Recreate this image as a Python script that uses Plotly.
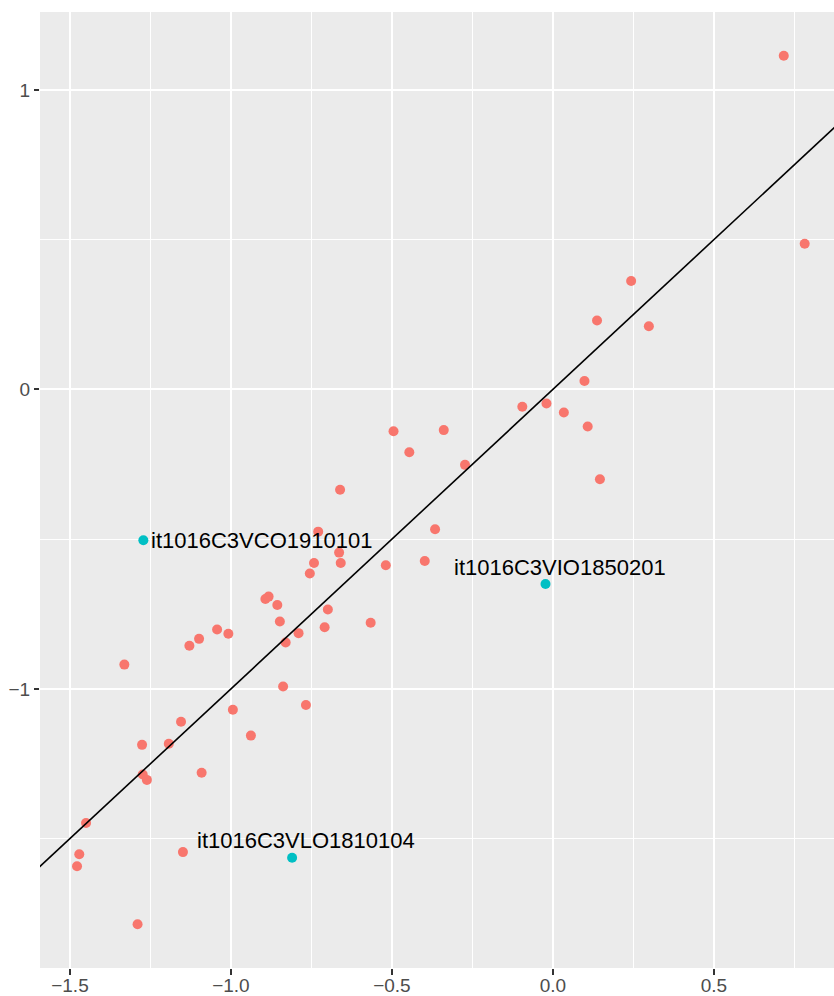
import numpy as np
import plotly.graph_objects as go

# ---- data ----
red_x = [0.717, 0.782, 0.243, 0.137, 0.298, 0.098, -0.095, -0.020, 0.034, 0.108,
         -0.339, -0.273, 0.146, -0.495, -0.446, -0.661, -0.366, -0.398, -0.729, -0.664,
         -0.742, -0.659, -0.519, -0.755, -0.893, -0.883, -0.856, -0.699, -0.848, -0.566,
         -1.043, -1.008, -0.709, -1.099, -1.129, -0.790, -0.830, -1.331, -0.838, -0.767,
         -0.994, -1.155, -1.276, -1.193, -0.938, -1.274, -1.261, -1.091, -1.450, -1.471,
         -1.478, -1.149, -1.290]
red_y = [1.114, 0.486, 0.362, 0.230, 0.211, 0.028, -0.058, -0.047, -0.077, -0.124,
         -0.136, -0.252, -0.300, -0.140, -0.210, -0.335, -0.467, -0.573, -0.475, -0.545,
         -0.580, -0.580, -0.587, -0.615, -0.700, -0.692, -0.720, -0.735, -0.775, -0.779,
         -0.802, -0.816, -0.794, -0.833, -0.856, -0.814, -0.845, -0.919, -0.992, -1.054,
         -1.070, -1.110, -1.187, -1.183, -1.156, -1.286, -1.304, -1.280, -1.448, -1.552,
         -1.592, -1.545, -1.786]

cyan_names = ["it1016C3VCO1910101", "it1016C3VLO1810104", "it1016C3VIO1850201"]
cyan_x = [-1.272, -0.810, -0.023]
cyan_y = [-0.504, -1.564, -0.650]
label_x = [-1.252, -1.107, -0.310]
label_y = [-0.504, -1.507, -0.596]

line_slope = 1.0
line_intercept = 0.0

x_range = [-1.593, 0.873]
y_range = [-1.932, 1.260]

x_tickvals = [-1.5, -1.0, -0.5, 0.0, 0.5]
x_ticktext = ["\u22121.5", "\u22121.0", "\u22120.5", "0.0", "0.5"]
x_minor = [-1.25, -0.75, -0.25, 0.25, 0.75]
y_tickvals = [-1, 0, 1]
y_ticktext = ["\u22121", "0", "1"]
y_minor = [-1.5, -0.5, 0.5]

FONT = "Liberation Sans, Arial, sans-serif"

fig = go.Figure()
fig.add_trace(go.Scatter(x=red_x, y=red_y, mode="markers",
                         marker=dict(color="#F8766D", size=10, line=dict(width=0)),
                         showlegend=False, hoverinfo="skip"))
fig.add_trace(go.Scatter(x=cyan_x, y=cyan_y, mode="markers",
                         marker=dict(color="#00BFC4", size=10, line=dict(width=0)),
                         showlegend=False, text=cyan_names))
lx = np.array([x_range[0] - 0.2, x_range[1] + 0.2])
fig.add_trace(go.Scatter(x=lx, y=line_slope * lx + line_intercept, mode="lines",
                         line=dict(color="black", width=1.6),
                         showlegend=False, hoverinfo="skip"))

for name, ax_, ay_ in zip(cyan_names, label_x, label_y):
    fig.add_annotation(x=ax_, y=ay_, text=name, showarrow=False,
                       xanchor="left", yanchor="middle",
                       font=dict(family=FONT, size=22, color="black"),
                       borderpad=0)

axis_common = dict(showgrid=True, gridcolor="white", gridwidth=2,
                   zeroline=False, showline=False,
                   ticks="outside", tickcolor="#333333", tickwidth=2,
                   tickfont=dict(family=FONT, size=19, color="#4D4D4D"),
                   automargin=False)

fig.update_xaxes(range=x_range, tickmode="array", tickvals=x_tickvals, ticktext=x_ticktext,
                 ticklen=6, ticklabelstandoff=-6,
                 minor=dict(tickvals=x_minor, showgrid=True, gridcolor="white",
                            gridwidth=1, ticklen=0),
                 **axis_common)
fig.update_yaxes(range=y_range, tickmode="array", tickvals=y_tickvals, ticktext=y_ticktext,
                 ticklen=5,
                 minor=dict(tickvals=y_minor, showgrid=True, gridcolor="white",
                            gridwidth=1, ticklen=0),
                 **axis_common)

fig.update_layout(width=834, height=996,
                  margin=dict(l=40, r=0, t=12, b=28),
                  paper_bgcolor="white", plot_bgcolor="#EBEBEB",
                  font=dict(family=FONT))

# remove the page's default 8px body margin so the figure fills the window exactly
fig.write_html("out.html", config={"displayModeBar": False},
               post_script="document.body.style.margin='0';document.body.style.overflow='hidden';")
